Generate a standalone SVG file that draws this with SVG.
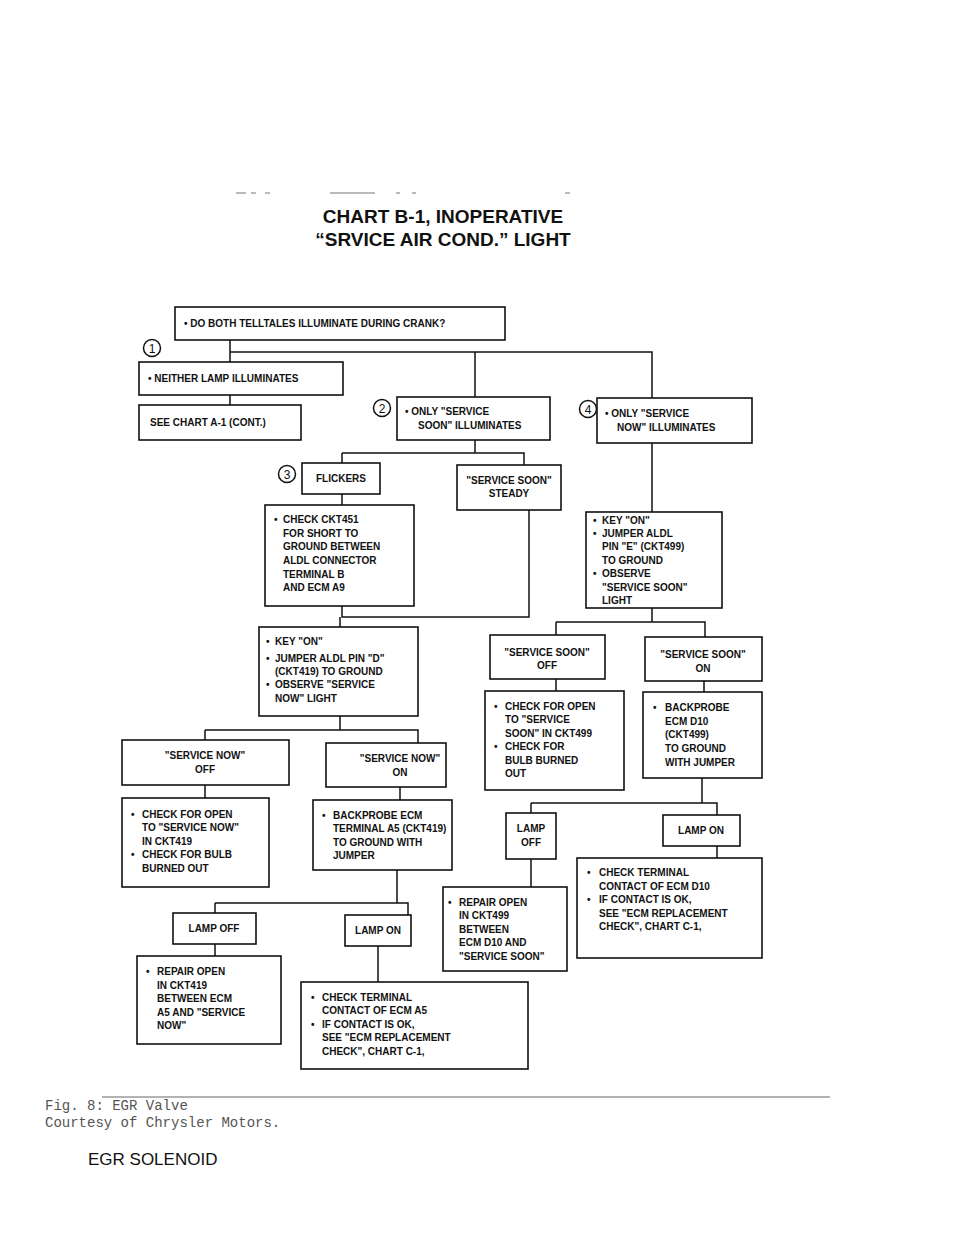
<svg xmlns="http://www.w3.org/2000/svg" width="960" height="1242" viewBox="0 0 960 1242">
<style>
.b{fill:#fff;stroke:#111;stroke-width:1.6}
.t{font-family:"Liberation Sans",Arial,sans-serif;font-weight:bold;font-size:10px;fill:#111}
.c{fill:none;stroke:#111;stroke-width:1.5}
.n{font-family:"Liberation Sans",Arial,sans-serif;font-size:12px;fill:#111}
.title{font-family:"Liberation Sans",Arial,sans-serif;font-weight:bold;font-size:19px;fill:#111;text-anchor:middle}
.m{font-family:"Liberation Mono","Courier New",monospace;font-size:14px;fill:#555}
</style>
<rect width="960" height="1242" fill="#fff"/>
<g stroke="#777" stroke-width="1">
<line x1="236" y1="193" x2="246" y2="193"/><line x1="251" y1="193" x2="256" y2="193"/><line x1="265" y1="193" x2="270" y2="193"/><line x1="330" y1="193" x2="375" y2="193"/><line x1="396" y1="193" x2="400" y2="193"/><line x1="412" y1="193" x2="416" y2="193"/><line x1="565" y1="193" x2="570" y2="193"/>
</g>
<text class="title" x="443" y="223">CHART B-1, INOPERATIVE</text>
<text class="title" x="443" y="246">“SRVICE AIR COND.” LIGHT</text>
<g id="connectors" class="c">
<path d="M230 340V362M230 352H652V398M475 352V397M230 395V405"/>
<path d="M475 440V453M342 453H524V465M342 453V463M342 494V505"/>
<path d="M342 606V617H529V510M340 617V627"/>
<path d="M652 443V512M652 608V622M556 622H705V637M556 622V635M556 679V691M704 681V692"/>
<path d="M340 716V730M205 730H418V743M205 730V740M205 785V798M400 787V800"/>
<path d="M702 778V803M531 803H717V815M531 803V813M531 859V887M717 846V858"/>
<path d="M397 870V903M215 903H408V915M215 903V913M215 944V956M378 946V982"/>
</g>
<g id="m1"><circle cx="152" cy="348" r="8.5" fill="none" stroke="#111" stroke-width="1.5"/><text class="n" x="152" y="352.5" text-anchor="middle">1</text></g>
<g id="m2"><circle cx="382" cy="408" r="8.5" fill="none" stroke="#111" stroke-width="1.5"/><text class="n" x="382" y="412.5" text-anchor="middle">2</text></g>
<g id="m3"><circle cx="287" cy="474" r="8.5" fill="none" stroke="#111" stroke-width="1.5"/><text class="n" x="287" y="478.5" text-anchor="middle">3</text></g>
<g id="m4"><circle cx="588" cy="409" r="8.5" fill="none" stroke="#111" stroke-width="1.5"/><text class="n" x="588" y="413.5" text-anchor="middle">4</text></g>
<g id="n1"><rect class="b" x="175" y="307" width="330" height="33"/><text class="t" x="184" y="327">•  DO BOTH TELLTALES ILLUMINATE DURING CRANK?</text></g>
<g id="n2"><rect class="b" x="139" y="362" width="204" height="33"/><text class="t" x="148" y="382">•  NEITHER LAMP ILLUMINATES</text></g>
<g id="n3"><rect class="b" x="139" y="405" width="162" height="35"/><text class="t" x="150" y="426">SEE CHART A-1 (CONT.)</text></g>
<g id="n4"><rect class="b" x="397" y="397" width="153" height="43"/><text class="t" x="405" y="415">•  ONLY "SERVICE</text><text class="t" x="418" y="429">SOON" ILLUMINATES</text></g>
<g id="n5"><rect class="b" x="597" y="398" width="155" height="45"/><text class="t" x="605" y="417">•  ONLY "SERVICE</text><text class="t" x="617" y="431">NOW" ILLUMINATES</text></g>
<g id="n6"><rect class="b" x="302" y="463" width="78" height="31"/><text class="t" x="341" y="482" text-anchor="middle">FLICKERS</text></g>
<g id="n7"><rect class="b" x="457" y="465" width="104" height="45"/><text class="t" x="509" y="484" text-anchor="middle">"SERVICE SOON"</text><text class="t" x="509" y="497" text-anchor="middle">STEADY</text></g>
<g id="n8"><rect class="b" x="265" y="505" width="149" height="101"/><text class="t" x="274" y="523">•</text><text class="t" x="283" y="523">CHECK CKT451</text><text class="t" x="283" y="537">FOR SHORT TO</text><text class="t" x="283" y="550">GROUND BETWEEN</text><text class="t" x="283" y="564">ALDL CONNECTOR</text><text class="t" x="283" y="578">TERMINAL B</text><text class="t" x="283" y="591">AND ECM A9</text></g>
<g id="n9"><rect class="b" x="586" y="512" width="136" height="96"/><text class="t" x="593" y="524">•</text><text class="t" x="602" y="524">KEY "ON"</text><text class="t" x="593" y="537">•</text><text class="t" x="602" y="537">JUMPER ALDL</text><text class="t" x="602" y="550">PIN "E" (CKT499)</text><text class="t" x="602" y="564">TO GROUND</text><text class="t" x="593" y="577">•</text><text class="t" x="602" y="577">OBSERVE</text><text class="t" x="602" y="591">"SERVICE SOON"</text><text class="t" x="602" y="604">LIGHT</text></g>
<g id="n10"><rect class="b" x="259" y="627" width="159" height="89"/><text class="t" x="266" y="645">•</text><text class="t" x="275" y="645">KEY "ON"</text><text class="t" x="266" y="662">•</text><text class="t" x="275" y="662">JUMPER ALDL PIN "D"</text><text class="t" x="275" y="675">(CKT419) TO GROUND</text><text class="t" x="266" y="688">•</text><text class="t" x="275" y="688">OBSERVE "SERVICE</text><text class="t" x="275" y="702">NOW" LIGHT</text></g>
<g id="n11"><rect class="b" x="490" y="635" width="115" height="44"/><text class="t" x="547" y="656" text-anchor="middle">"SERVICE SOON"</text><text class="t" x="547" y="669" text-anchor="middle">OFF</text></g>
<g id="n12"><rect class="b" x="645" y="637" width="117" height="44"/><text class="t" x="703" y="658" text-anchor="middle">"SERVICE SOON"</text><text class="t" x="703" y="672" text-anchor="middle">ON</text></g>
<g id="n13"><rect class="b" x="485" y="691" width="139" height="99"/><text class="t" x="494" y="710">•</text><text class="t" x="505" y="710">CHECK FOR OPEN</text><text class="t" x="505" y="723">TO "SERVICE</text><text class="t" x="505" y="737">SOON" IN CKT499</text><text class="t" x="494" y="750">•</text><text class="t" x="505" y="750">CHECK FOR</text><text class="t" x="505" y="764">BULB BURNED</text><text class="t" x="505" y="777">OUT</text></g>
<g id="n14"><rect class="b" x="643" y="692" width="119" height="86"/><text class="t" x="653" y="711">•</text><text class="t" x="665" y="711">BACKPROBE</text><text class="t" x="665" y="725">ECM D10</text><text class="t" x="665" y="738">(CKT499)</text><text class="t" x="665" y="752">TO GROUND</text><text class="t" x="665" y="766">WITH JUMPER</text></g>
<g id="n15"><rect class="b" x="122" y="740" width="167" height="45"/><text class="t" x="205" y="759" text-anchor="middle">"SERVICE NOW"</text><text class="t" x="205" y="773" text-anchor="middle">OFF</text></g>
<g id="n16"><rect class="b" x="326" y="743" width="120" height="44"/><text class="t" x="400" y="762" text-anchor="middle">"SERVICE NOW"</text><text class="t" x="400" y="776" text-anchor="middle">ON</text></g>
<g id="n17"><rect class="b" x="122" y="798" width="147" height="89"/><text class="t" x="131" y="818">•</text><text class="t" x="142" y="818">CHECK FOR OPEN</text><text class="t" x="142" y="831">TO "SERVICE NOW"</text><text class="t" x="142" y="845">IN CKT419</text><text class="t" x="131" y="858">•</text><text class="t" x="142" y="858">CHECK FOR BULB</text><text class="t" x="142" y="872">BURNED OUT</text></g>
<g id="n18"><rect class="b" x="313" y="800" width="139" height="70"/><text class="t" x="322" y="819">•</text><text class="t" x="333" y="819">BACKPROBE ECM</text><text class="t" x="333" y="832">TERMINAL A5 (CKT419)</text><text class="t" x="333" y="846">TO GROUND WITH</text><text class="t" x="333" y="859">JUMPER</text></g>
<g id="n19"><rect class="b" x="506" y="813" width="50" height="46"/><text class="t" x="531" y="832" text-anchor="middle">LAMP</text><text class="t" x="531" y="846" text-anchor="middle">OFF</text></g>
<g id="n20"><rect class="b" x="663" y="815" width="77" height="31"/><text class="t" x="701" y="834" text-anchor="middle">LAMP ON</text></g>
<g id="n21"><rect class="b" x="577" y="858" width="185" height="100"/><text class="t" x="587" y="876">•</text><text class="t" x="599" y="876">CHECK TERMINAL</text><text class="t" x="599" y="890">CONTACT OF ECM D10</text><text class="t" x="587" y="903">•</text><text class="t" x="599" y="903">IF CONTACT IS OK,</text><text class="t" x="599" y="917">SEE "ECM REPLACEMENT</text><text class="t" x="599" y="930">CHECK", CHART C-1,</text></g>
<g id="n22"><rect class="b" x="443" y="887" width="124" height="84"/><text class="t" x="448" y="906">•</text><text class="t" x="459" y="906">REPAIR OPEN</text><text class="t" x="459" y="919">IN CKT499</text><text class="t" x="459" y="933">BETWEEN</text><text class="t" x="459" y="946">ECM D10 AND</text><text class="t" x="459" y="960">"SERVICE SOON"</text></g>
<g id="n23"><rect class="b" x="173" y="913" width="83" height="31"/><text class="t" x="214" y="932" text-anchor="middle">LAMP OFF</text></g>
<g id="n24"><rect class="b" x="345" y="915" width="66" height="31"/><text class="t" x="378" y="934" text-anchor="middle">LAMP ON</text></g>
<g id="n25"><rect class="b" x="137" y="956" width="144" height="88"/><text class="t" x="146" y="975">•</text><text class="t" x="157" y="975">REPAIR OPEN</text><text class="t" x="157" y="989">IN CKT419</text><text class="t" x="157" y="1002">BETWEEN ECM</text><text class="t" x="157" y="1016">A5 AND "SERVICE</text><text class="t" x="157" y="1029">NOW"</text></g>
<g id="n26"><rect class="b" x="301" y="982" width="227" height="87"/><text class="t" x="311" y="1001">•</text><text class="t" x="322" y="1001">CHECK TERMINAL</text><text class="t" x="322" y="1014">CONTACT OF ECM A5</text><text class="t" x="311" y="1028">•</text><text class="t" x="322" y="1028">IF CONTACT IS OK,</text><text class="t" x="322" y="1041">SEE "ECM REPLACEMENT</text><text class="t" x="322" y="1055">CHECK", CHART C-1,</text></g>
<line x1="102" y1="1097" x2="830" y2="1097" stroke="#666" stroke-width="1"/>
<text class="m" x="45" y="1110">Fig. 8:  EGR Valve</text>
<text class="m" x="45" y="1127">Courtesy of Chrysler Motors.</text>
<text x="88" y="1165" font-family="Liberation Sans,Arial,sans-serif" font-size="17" fill="#111">EGR SOLENOID</text>
</svg>
